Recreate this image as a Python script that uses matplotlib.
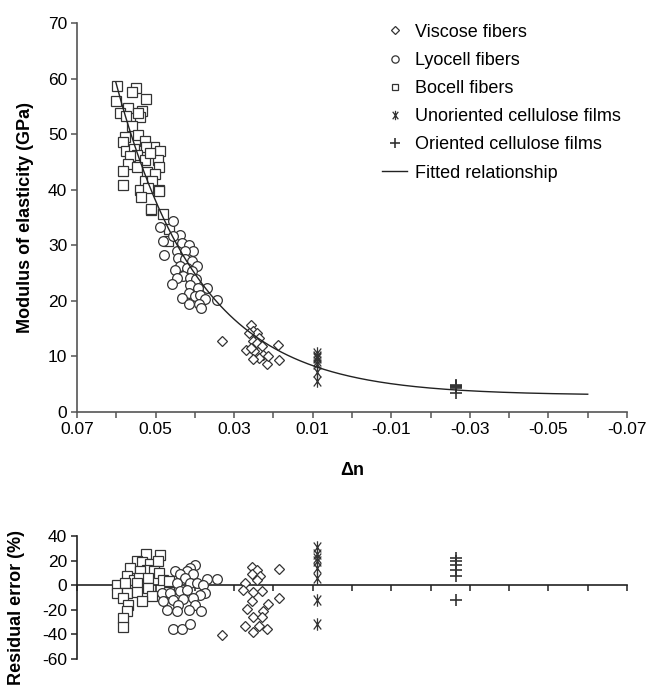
import numpy as np
import matplotlib
matplotlib.use("Agg")
import matplotlib.pyplot as plt
from matplotlib.path import Path

plt.rcParams['font.family'] = ['Liberation Sans', 'DejaVu Sans']
plt.rcParams['axes.unicode_minus'] = False

# ---------------- data ----------------
# Bocell fibers (squares): birefringence, modulus (GPa)
bocell_dn = [0.0597, 0.0549, 0.0560, 0.0525, 0.0601, 0.0571, 0.0535, 0.0590, 0.0575, 0.0539,
             0.0544, 0.0560, 0.0544, 0.0579, 0.0583, 0.0526, 0.0505, 0.0488, 0.0575, 0.0556,
             0.0525, 0.0546, 0.0565, 0.0526, 0.0495, 0.0514, 0.0571, 0.0546, 0.0491, 0.0583,
             0.0522, 0.0501, 0.0528, 0.0509, 0.0583, 0.0539, 0.0518, 0.0491, 0.0536, 0.0512,
             0.0480, 0.0465, 0.0492, 0.0511, 0.0469]
bocell_E = [58.7, 58.3, 57.5, 56.3, 56.0, 54.7, 54.2, 53.8, 53.3, 53.0,
            53.8, 51.4, 49.9, 49.4, 48.5, 48.8, 47.6, 47.0, 47.0, 47.3,
            47.6, 46.3, 46.0, 45.4, 45.4, 46.6, 44.6, 44.0, 44.0, 43.4,
            43.1, 42.8, 41.6, 41.5, 40.9, 40.0, 40.3, 40.0, 38.6, 36.4,
            35.6, 32.9, 39.8, 36.5, 30.7]

# Lyocell fibers (circles)
lyocell_dn = [0.0455, 0.0488, 0.0439, 0.0455, 0.0481, 0.0433, 0.0416, 0.0404, 0.0446, 0.0425,
              0.0478, 0.0442, 0.0425, 0.0408, 0.0395, 0.0438, 0.0421, 0.0450, 0.0408, 0.0431,
              0.0446, 0.0412, 0.0397, 0.0459, 0.0412, 0.0370, 0.0393, 0.0416, 0.0399, 0.0433,
              0.0387, 0.0374, 0.0344, 0.0414, 0.0389, 0.0385]
lyocell_E = [34.4, 33.2, 31.9, 31.6, 30.7, 30.4, 30.1, 29.0, 28.9, 28.9,
             28.2, 27.7, 27.5, 27.1, 26.2, 26.3, 26.0, 25.6, 25.4, 24.5,
             24.1, 24.1, 23.9, 23.0, 22.9, 22.3, 22.4, 21.4, 20.8, 20.6,
             21.1, 20.3, 20.2, 19.4, 19.4, 18.7]

# Viscose fibers (diamonds)
viscose_dn = [0.0256, 0.0251, 0.0241, 0.0236, 0.0253, 0.0243, 0.0230, 0.0250, 0.0226, 0.0236,
              0.0251, 0.0217, 0.0213, 0.0188, 0.0185, 0.0331, 0.0262, 0.0270, 0.0258]
viscose_E = [15.7, 14.5, 14.2, 13.3, 12.7, 12.4, 11.8, 10.9, 10.3, 9.7,
             9.5, 8.6, 10.0, 12.1, 9.4, 12.8, 14.3, 11.2, 11.5]

# Unoriented cellulose films
unor_dn = [0.0090, 0.0090, 0.0090, 0.0090, 0.0090, 0.0090, 0.0090, 0.0090]
unor_E = [10.6, 10.1, 9.9, 9.7, 9.2, 8.6, 7.2, 5.6]

# Oriented cellulose films
orient_dn = [-0.0264, -0.0264, -0.0264, -0.0264, -0.0264, -0.0264]
orient_E = [4.85, 4.74, 4.64, 4.47, 4.26, 3.5]

# Fitted relationship E = E0 + A*exp(k*dn)
fit_E0, fit_A, fit_k = 3.0, 3.34, 47.0
fit_range = (0.0601, -0.06)

# Residuals (%)
res_bocell_dn = [0.0524, 0.0488, 0.0548, 0.0535, 0.0514, 0.0493, 0.0565, 0.0522, 0.0539, 0.0505,
                 0.0490, 0.0573, 0.0556, 0.0543, 0.0518, 0.0480, 0.0597, 0.0577, 0.0548, 0.0467,
                 0.0598, 0.0573, 0.0548, 0.0518, 0.0467, 0.0582, 0.0509, 0.0535, 0.0569, 0.0573,
                 0.0583, 0.0582]
res_bocell = [25.7, 24.9, 19.5, 18.7, 17.6, 19.5, 14.1, 12.7, 11.4, 11.4,
              10.0, 7.3, 4.6, 6.0, 6.0, 4.6, 0.5, 1.9, 1.9, 3.3,
              -6.2, -6.2, -5.7, -2.2, -5.7, -10.3, -8.4, -13.0, -15.7, -21.1,
              -26.6, -33.9]

res_lyocell_dn = [0.0399, 0.0412, 0.0421, 0.0450, 0.0438, 0.0404, 0.0370, 0.0344, 0.0425, 0.0446,
                  0.0412, 0.0395, 0.0378, 0.0484, 0.0463, 0.0438, 0.0421, 0.0374, 0.0387, 0.0455,
                  0.0429, 0.0404, 0.0480, 0.0442, 0.0399, 0.0471, 0.0446, 0.0416, 0.0385, 0.0456,
                  0.0433, 0.0412]
res_lyocell = [16.8, 14.1, 11.4, 11.4, 8.7, 8.7, 5.1, 5.1, 6.0, 1.9,
               1.9, 1.4, 0.5, -6.2, -6.2, -4.9, -3.5, -6.2, -7.6, -11.7,
               -11.1, -10.3, -13.0, -15.7, -15.7, -19.8, -21.1, -20.3, -21.1, -35.5,
               -35.5, -31.2]

res_viscose_dn = [0.0255, 0.0241, 0.0254, 0.0234, 0.0272, 0.0243, 0.0278, 0.0251, 0.0230, 0.0255,
                  0.0213, 0.0268, 0.0226, 0.0251, 0.0230, 0.0272, 0.0236, 0.0251, 0.0216, 0.0330,
                  0.0185, 0.0185]
res_viscose = [14.9, 12.2, 8.7, 7.3, 1.9, 4.6, -4.1, -5.7, -4.9, -13.0,
               -14.9, -19.2, -21.1, -25.7, -25.7, -32.8, -32.8, -38.2, -35.5, -40.6,
               13.3, -10.3]

res_unor_dn = [0.0090, 0.0090, 0.0090, 0.0090, 0.0090, 0.0090, 0.0090, 0.0090]
res_unor = [31.2, 25.0, 22.2, 19.5, 14.1, 6.0, -11.7, -31.2]

res_orient_dn = [-0.0264, -0.0264, -0.0264, -0.0264, -0.0264, -0.0264]
res_orient = [22.2, 19.5, 16.8, 12.7, 7.3, -11.7]

x_ticks = [0.07, 0.06, 0.05, 0.04, 0.03, 0.02, 0.01, 0.0, -0.01, -0.02, -0.03, -0.04, -0.05, -0.06, -0.07]
x_ticklabels = ['0.07', '', '0.05', '', '0.03', '', '0.01', '', '-0.01', '', '-0.03', '', '-0.05', '', '-0.07']
y_ticks = [0, 10, 20, 30, 40, 50, 60, 70]
res_ticks = [-60, -40, -20, 0, 20, 40]

# ---------------- drawing ----------------
ec = '#333333'
spine_c = '#555555'
star = Path([(0, -1), (0, 1), (-0.6, -0.8), (0.6, 0.8), (-0.6, 0.8), (0.6, -0.8)],
            [Path.MOVETO, Path.LINETO, Path.MOVETO, Path.LINETO, Path.MOVETO, Path.LINETO])

fig = plt.figure(figsize=(6.48, 6.90), dpi=100)
ax = fig.add_axes([0.1188, 0.4029, 0.8488, 0.5638])
ax2 = fig.add_axes([0.1188, 0.0449, 0.8488, 0.1783])

mk = dict(linestyle='none', markerfacecolor='white', markeredgecolor=ec, markeredgewidth=0.9)

def draw(a, vd, v, ld, l, bd, b, ud, u, od, o):
    a.plot(bd, b, marker='s', markersize=6.5, label='Bocell fibers', zorder=3, **mk)
    a.plot(ld, l, marker='o', markersize=7, label='Lyocell fibers', zorder=4, **mk)
    a.plot(vd, v, marker='D', markersize=5.5, label='Viscose fibers', zorder=4, **mk)
    a.plot(ud, u, marker=star, markersize=9, linestyle='none', color=ec, markeredgewidth=0.9,
           label='Unoriented cellulose films', zorder=4)
    a.plot(od, o, marker='+', markersize=9, linestyle='none', color=ec, markeredgewidth=1.2,
           label='Oriented cellulose films', zorder=4)

draw(ax, viscose_dn, viscose_E, lyocell_dn, lyocell_E, bocell_dn, bocell_E,
     unor_dn, unor_E, orient_dn, orient_E)
xf = np.linspace(fit_range[0], fit_range[1], 300)
ax.plot(xf, fit_E0 + fit_A * np.exp(fit_k * xf), color='#222222', lw=1.0,
        label='Fitted relationship', zorder=5)

ax.set_xlim(0.07, -0.07)
ax.set_ylim(0, 70)
ax.set_xticks(x_ticks)
ax.set_xticklabels(x_ticklabels)
ax.set_yticks(y_ticks)
for s in ['top', 'right']:
    ax.spines[s].set_visible(False)
for s in ['left', 'bottom']:
    ax.spines[s].set_color(spine_c)
    ax.spines[s].set_linewidth(1.2)
ax.tick_params(direction='out', length=4, width=1.1, color=spine_c, labelsize=12.5, pad=3)
ax.set_xlabel('\u0394n', fontsize=13, fontweight='bold', labelpad=18)
ax.set_ylabel('Modulus of elasticity (GPa)', fontsize=13, fontweight='bold', labelpad=10)

h, lab = ax.get_legend_handles_labels()
order = ['Viscose fibers', 'Lyocell fibers', 'Bocell fibers', 'Unoriented cellulose films',
         'Oriented cellulose films', 'Fitted relationship']
hh = [h[lab.index(o)] for o in order]
ax.legend(hh, order, loc='upper right', bbox_to_anchor=(1.019, 1.04), frameon=False,
          fontsize=13, markerscale=0.75, handlelength=1.4, handletextpad=0.45,
          labelspacing=0.62)

draw(ax2, res_viscose_dn, res_viscose, res_lyocell_dn, res_lyocell, res_bocell_dn, res_bocell,
     res_unor_dn, res_unor, res_orient_dn, res_orient)
ax2.set_xlim(0.07, -0.07)
ax2.set_ylim(-60, 40)
ax2.set_yticks(res_ticks)
ax2.set_xticks(x_ticks)
ax2.set_xticklabels([])
ax2.spines['bottom'].set_position(('data', 0))
for s in ['top', 'right']:
    ax2.spines[s].set_visible(False)
for s in ['left', 'bottom']:
    ax2.spines[s].set_color('#222222')
    ax2.spines[s].set_linewidth(1.2)
ax2.spines['bottom'].set_zorder(1)
ax2.tick_params(direction='out', length=4, width=1.1, color='#222222', labelsize=12.5, pad=3)
ax2.set_ylabel('Residual error (%)', fontsize=13, fontweight='bold')
ax2.yaxis.set_label_coords(-0.095, 0.415)

fig.savefig('out.png', dpi=100)
